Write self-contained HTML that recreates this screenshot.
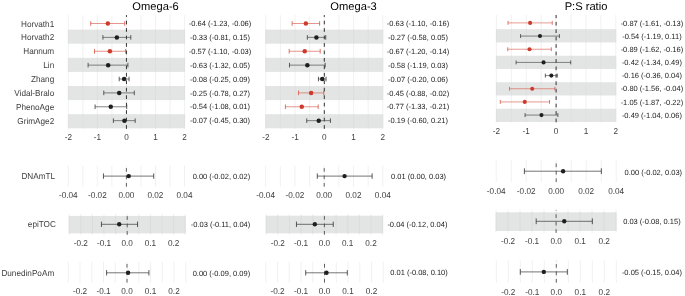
<!DOCTYPE html>
<html><head><meta charset="utf-8"><style>
html,body{margin:0;padding:0;background:#fff;}
svg{display:block;font-family:"Liberation Sans", sans-serif;will-change:transform;text-rendering:geometricPrecision;}
</style></head><body>
<svg width="685" height="296" viewBox="0 0 685 296">
<rect width="685" height="296" fill="#fff"/>
<rect x="68.35" y="29.60" width="116.20" height="14.10" fill="#E3E5E4"/>
<rect x="68.35" y="57.80" width="116.20" height="14.10" fill="#E3E5E4"/>
<rect x="68.35" y="86.00" width="116.20" height="14.10" fill="#E3E5E4"/>
<rect x="68.35" y="114.20" width="116.20" height="14.10" fill="#E3E5E4"/>
<line x1="68.35" y1="15.10" x2="68.35" y2="128.85" stroke="#EBEBEB" stroke-width="0.7"/>
<line x1="68.35" y1="29.60" x2="68.35" y2="43.70" stroke="#DADADA" stroke-width="0.7"/>
<line x1="68.35" y1="57.80" x2="68.35" y2="71.90" stroke="#DADADA" stroke-width="0.7"/>
<line x1="68.35" y1="86.00" x2="68.35" y2="100.10" stroke="#DADADA" stroke-width="0.7"/>
<line x1="68.35" y1="114.20" x2="68.35" y2="128.30" stroke="#DADADA" stroke-width="0.7"/>
<line x1="82.88" y1="15.10" x2="82.88" y2="128.85" stroke="#EBEBEB" stroke-width="0.7"/>
<line x1="82.88" y1="29.60" x2="82.88" y2="43.70" stroke="#DADADA" stroke-width="0.7"/>
<line x1="82.88" y1="57.80" x2="82.88" y2="71.90" stroke="#DADADA" stroke-width="0.7"/>
<line x1="82.88" y1="86.00" x2="82.88" y2="100.10" stroke="#DADADA" stroke-width="0.7"/>
<line x1="82.88" y1="114.20" x2="82.88" y2="128.30" stroke="#DADADA" stroke-width="0.7"/>
<line x1="97.40" y1="15.10" x2="97.40" y2="128.85" stroke="#EBEBEB" stroke-width="0.7"/>
<line x1="97.40" y1="29.60" x2="97.40" y2="43.70" stroke="#DADADA" stroke-width="0.7"/>
<line x1="97.40" y1="57.80" x2="97.40" y2="71.90" stroke="#DADADA" stroke-width="0.7"/>
<line x1="97.40" y1="86.00" x2="97.40" y2="100.10" stroke="#DADADA" stroke-width="0.7"/>
<line x1="97.40" y1="114.20" x2="97.40" y2="128.30" stroke="#DADADA" stroke-width="0.7"/>
<line x1="111.92" y1="15.10" x2="111.92" y2="128.85" stroke="#EBEBEB" stroke-width="0.7"/>
<line x1="111.92" y1="29.60" x2="111.92" y2="43.70" stroke="#DADADA" stroke-width="0.7"/>
<line x1="111.92" y1="57.80" x2="111.92" y2="71.90" stroke="#DADADA" stroke-width="0.7"/>
<line x1="111.92" y1="86.00" x2="111.92" y2="100.10" stroke="#DADADA" stroke-width="0.7"/>
<line x1="111.92" y1="114.20" x2="111.92" y2="128.30" stroke="#DADADA" stroke-width="0.7"/>
<line x1="126.45" y1="15.10" x2="126.45" y2="128.85" stroke="#EBEBEB" stroke-width="0.7"/>
<line x1="126.45" y1="29.60" x2="126.45" y2="43.70" stroke="#DADADA" stroke-width="0.7"/>
<line x1="126.45" y1="57.80" x2="126.45" y2="71.90" stroke="#DADADA" stroke-width="0.7"/>
<line x1="126.45" y1="86.00" x2="126.45" y2="100.10" stroke="#DADADA" stroke-width="0.7"/>
<line x1="126.45" y1="114.20" x2="126.45" y2="128.30" stroke="#DADADA" stroke-width="0.7"/>
<line x1="140.97" y1="15.10" x2="140.97" y2="128.85" stroke="#EBEBEB" stroke-width="0.7"/>
<line x1="140.97" y1="29.60" x2="140.97" y2="43.70" stroke="#DADADA" stroke-width="0.7"/>
<line x1="140.97" y1="57.80" x2="140.97" y2="71.90" stroke="#DADADA" stroke-width="0.7"/>
<line x1="140.97" y1="86.00" x2="140.97" y2="100.10" stroke="#DADADA" stroke-width="0.7"/>
<line x1="140.97" y1="114.20" x2="140.97" y2="128.30" stroke="#DADADA" stroke-width="0.7"/>
<line x1="155.50" y1="15.10" x2="155.50" y2="128.85" stroke="#EBEBEB" stroke-width="0.7"/>
<line x1="155.50" y1="29.60" x2="155.50" y2="43.70" stroke="#DADADA" stroke-width="0.7"/>
<line x1="155.50" y1="57.80" x2="155.50" y2="71.90" stroke="#DADADA" stroke-width="0.7"/>
<line x1="155.50" y1="86.00" x2="155.50" y2="100.10" stroke="#DADADA" stroke-width="0.7"/>
<line x1="155.50" y1="114.20" x2="155.50" y2="128.30" stroke="#DADADA" stroke-width="0.7"/>
<line x1="170.03" y1="15.10" x2="170.03" y2="128.85" stroke="#EBEBEB" stroke-width="0.7"/>
<line x1="170.03" y1="29.60" x2="170.03" y2="43.70" stroke="#DADADA" stroke-width="0.7"/>
<line x1="170.03" y1="57.80" x2="170.03" y2="71.90" stroke="#DADADA" stroke-width="0.7"/>
<line x1="170.03" y1="86.00" x2="170.03" y2="100.10" stroke="#DADADA" stroke-width="0.7"/>
<line x1="170.03" y1="114.20" x2="170.03" y2="128.30" stroke="#DADADA" stroke-width="0.7"/>
<line x1="184.55" y1="15.10" x2="184.55" y2="128.85" stroke="#EBEBEB" stroke-width="0.7"/>
<line x1="184.55" y1="29.60" x2="184.55" y2="43.70" stroke="#DADADA" stroke-width="0.7"/>
<line x1="184.55" y1="57.80" x2="184.55" y2="71.90" stroke="#DADADA" stroke-width="0.7"/>
<line x1="184.55" y1="86.00" x2="184.55" y2="100.10" stroke="#DADADA" stroke-width="0.7"/>
<line x1="184.55" y1="114.20" x2="184.55" y2="128.30" stroke="#DADADA" stroke-width="0.7"/>
<line x1="126.45" y1="128.85" x2="126.45" y2="15.10" stroke="#333" stroke-width="1.0" stroke-dasharray="3.73 3.73"/>
<line x1="90.72" y1="23.50" x2="124.71" y2="23.50" stroke="#D65646" stroke-width="0.62"/>
<line x1="90.72" y1="21.20" x2="90.72" y2="25.80" stroke="#D65646" stroke-width="0.82"/>
<line x1="124.71" y1="21.20" x2="124.71" y2="25.80" stroke="#D65646" stroke-width="0.82"/>
<circle cx="107.86" cy="23.50" r="2.25" fill="#CC3B2B"/>
<text x="220.00" y="26.10" text-anchor="middle" font-size="7.5" fill="#1A1A1A">-0.64 (-1.23, -0.06)</text>
<line x1="102.92" y1="37.38" x2="130.81" y2="37.38" stroke="#3A3A3A" stroke-width="0.62"/>
<line x1="102.92" y1="35.08" x2="102.92" y2="39.68" stroke="#3A3A3A" stroke-width="0.82"/>
<line x1="130.81" y1="35.08" x2="130.81" y2="39.68" stroke="#3A3A3A" stroke-width="0.82"/>
<circle cx="116.86" cy="37.38" r="2.25" fill="#1F1F1F"/>
<text x="220.00" y="39.98" text-anchor="middle" font-size="7.5" fill="#1A1A1A">-0.33 (-0.81, 0.15)</text>
<line x1="94.50" y1="51.26" x2="125.58" y2="51.26" stroke="#D65646" stroke-width="0.62"/>
<line x1="94.50" y1="48.96" x2="94.50" y2="53.56" stroke="#D65646" stroke-width="0.82"/>
<line x1="125.58" y1="48.96" x2="125.58" y2="53.56" stroke="#D65646" stroke-width="0.82"/>
<circle cx="109.89" cy="51.26" r="2.25" fill="#CC3B2B"/>
<text x="220.00" y="53.86" text-anchor="middle" font-size="7.5" fill="#1A1A1A">-0.57 (-1.10, -0.03)</text>
<line x1="88.10" y1="65.14" x2="127.90" y2="65.14" stroke="#3A3A3A" stroke-width="0.62"/>
<line x1="88.10" y1="62.84" x2="88.10" y2="67.44" stroke="#3A3A3A" stroke-width="0.82"/>
<line x1="127.90" y1="62.84" x2="127.90" y2="67.44" stroke="#3A3A3A" stroke-width="0.82"/>
<circle cx="108.15" cy="65.14" r="2.25" fill="#1F1F1F"/>
<text x="220.00" y="67.74" text-anchor="middle" font-size="7.5" fill="#1A1A1A">-0.63 (-1.32, 0.05)</text>
<line x1="119.19" y1="79.02" x2="129.06" y2="79.02" stroke="#3A3A3A" stroke-width="0.62"/>
<line x1="119.19" y1="76.72" x2="119.19" y2="81.32" stroke="#3A3A3A" stroke-width="0.82"/>
<line x1="129.06" y1="76.72" x2="129.06" y2="81.32" stroke="#3A3A3A" stroke-width="0.82"/>
<circle cx="124.13" cy="79.02" r="2.25" fill="#1F1F1F"/>
<text x="220.00" y="81.62" text-anchor="middle" font-size="7.5" fill="#1A1A1A">-0.08 (-0.25, 0.09)</text>
<line x1="103.79" y1="92.90" x2="134.29" y2="92.90" stroke="#3A3A3A" stroke-width="0.62"/>
<line x1="103.79" y1="90.60" x2="103.79" y2="95.20" stroke="#3A3A3A" stroke-width="0.82"/>
<line x1="134.29" y1="90.60" x2="134.29" y2="95.20" stroke="#3A3A3A" stroke-width="0.82"/>
<circle cx="119.19" cy="92.90" r="2.25" fill="#1F1F1F"/>
<text x="220.00" y="95.50" text-anchor="middle" font-size="7.5" fill="#1A1A1A">-0.25 (-0.78, 0.27)</text>
<line x1="95.08" y1="106.78" x2="126.74" y2="106.78" stroke="#3A3A3A" stroke-width="0.62"/>
<line x1="95.08" y1="104.48" x2="95.08" y2="109.08" stroke="#3A3A3A" stroke-width="0.82"/>
<line x1="126.74" y1="104.48" x2="126.74" y2="109.08" stroke="#3A3A3A" stroke-width="0.82"/>
<circle cx="110.76" cy="106.78" r="2.25" fill="#1F1F1F"/>
<text x="220.00" y="109.38" text-anchor="middle" font-size="7.5" fill="#1A1A1A">-0.54 (-1.08, 0.01)</text>
<line x1="113.38" y1="120.66" x2="135.16" y2="120.66" stroke="#3A3A3A" stroke-width="0.62"/>
<line x1="113.38" y1="118.36" x2="113.38" y2="122.96" stroke="#3A3A3A" stroke-width="0.82"/>
<line x1="135.16" y1="118.36" x2="135.16" y2="122.96" stroke="#3A3A3A" stroke-width="0.82"/>
<circle cx="124.42" cy="120.66" r="2.25" fill="#1F1F1F"/>
<text x="220.00" y="123.26" text-anchor="middle" font-size="7.5" fill="#1A1A1A">-0.07 (-0.45, 0.30)</text>
<text transform="translate(68.35,139.90) scale(1,1.05)" text-anchor="middle" font-size="8.2" fill="#404040">-2</text>
<text transform="translate(97.40,139.90) scale(1,1.05)" text-anchor="middle" font-size="8.2" fill="#404040">-1</text>
<text transform="translate(126.45,139.90) scale(1,1.05)" text-anchor="middle" font-size="8.2" fill="#404040">0</text>
<text transform="translate(155.50,139.90) scale(1,1.05)" text-anchor="middle" font-size="8.2" fill="#404040">1</text>
<text transform="translate(184.55,139.90) scale(1,1.05)" text-anchor="middle" font-size="8.2" fill="#404040">2</text>
<text x="155.60" y="10.35" text-anchor="middle" font-size="11.15" fill="#000">Omega-6</text>
<rect x="265.60" y="29.60" width="117.00" height="14.10" fill="#E3E5E4"/>
<rect x="265.60" y="57.80" width="117.00" height="14.10" fill="#E3E5E4"/>
<rect x="265.60" y="86.00" width="117.00" height="14.10" fill="#E3E5E4"/>
<rect x="265.60" y="114.20" width="117.00" height="14.10" fill="#E3E5E4"/>
<line x1="265.80" y1="15.10" x2="265.80" y2="128.85" stroke="#EBEBEB" stroke-width="0.7"/>
<line x1="265.80" y1="29.60" x2="265.80" y2="43.70" stroke="#DADADA" stroke-width="0.7"/>
<line x1="265.80" y1="57.80" x2="265.80" y2="71.90" stroke="#DADADA" stroke-width="0.7"/>
<line x1="265.80" y1="86.00" x2="265.80" y2="100.10" stroke="#DADADA" stroke-width="0.7"/>
<line x1="265.80" y1="114.20" x2="265.80" y2="128.30" stroke="#DADADA" stroke-width="0.7"/>
<line x1="280.43" y1="15.10" x2="280.43" y2="128.85" stroke="#EBEBEB" stroke-width="0.7"/>
<line x1="280.43" y1="29.60" x2="280.43" y2="43.70" stroke="#DADADA" stroke-width="0.7"/>
<line x1="280.43" y1="57.80" x2="280.43" y2="71.90" stroke="#DADADA" stroke-width="0.7"/>
<line x1="280.43" y1="86.00" x2="280.43" y2="100.10" stroke="#DADADA" stroke-width="0.7"/>
<line x1="280.43" y1="114.20" x2="280.43" y2="128.30" stroke="#DADADA" stroke-width="0.7"/>
<line x1="295.05" y1="15.10" x2="295.05" y2="128.85" stroke="#EBEBEB" stroke-width="0.7"/>
<line x1="295.05" y1="29.60" x2="295.05" y2="43.70" stroke="#DADADA" stroke-width="0.7"/>
<line x1="295.05" y1="57.80" x2="295.05" y2="71.90" stroke="#DADADA" stroke-width="0.7"/>
<line x1="295.05" y1="86.00" x2="295.05" y2="100.10" stroke="#DADADA" stroke-width="0.7"/>
<line x1="295.05" y1="114.20" x2="295.05" y2="128.30" stroke="#DADADA" stroke-width="0.7"/>
<line x1="309.68" y1="15.10" x2="309.68" y2="128.85" stroke="#EBEBEB" stroke-width="0.7"/>
<line x1="309.68" y1="29.60" x2="309.68" y2="43.70" stroke="#DADADA" stroke-width="0.7"/>
<line x1="309.68" y1="57.80" x2="309.68" y2="71.90" stroke="#DADADA" stroke-width="0.7"/>
<line x1="309.68" y1="86.00" x2="309.68" y2="100.10" stroke="#DADADA" stroke-width="0.7"/>
<line x1="309.68" y1="114.20" x2="309.68" y2="128.30" stroke="#DADADA" stroke-width="0.7"/>
<line x1="324.30" y1="15.10" x2="324.30" y2="128.85" stroke="#EBEBEB" stroke-width="0.7"/>
<line x1="324.30" y1="29.60" x2="324.30" y2="43.70" stroke="#DADADA" stroke-width="0.7"/>
<line x1="324.30" y1="57.80" x2="324.30" y2="71.90" stroke="#DADADA" stroke-width="0.7"/>
<line x1="324.30" y1="86.00" x2="324.30" y2="100.10" stroke="#DADADA" stroke-width="0.7"/>
<line x1="324.30" y1="114.20" x2="324.30" y2="128.30" stroke="#DADADA" stroke-width="0.7"/>
<line x1="338.93" y1="15.10" x2="338.93" y2="128.85" stroke="#EBEBEB" stroke-width="0.7"/>
<line x1="338.93" y1="29.60" x2="338.93" y2="43.70" stroke="#DADADA" stroke-width="0.7"/>
<line x1="338.93" y1="57.80" x2="338.93" y2="71.90" stroke="#DADADA" stroke-width="0.7"/>
<line x1="338.93" y1="86.00" x2="338.93" y2="100.10" stroke="#DADADA" stroke-width="0.7"/>
<line x1="338.93" y1="114.20" x2="338.93" y2="128.30" stroke="#DADADA" stroke-width="0.7"/>
<line x1="353.55" y1="15.10" x2="353.55" y2="128.85" stroke="#EBEBEB" stroke-width="0.7"/>
<line x1="353.55" y1="29.60" x2="353.55" y2="43.70" stroke="#DADADA" stroke-width="0.7"/>
<line x1="353.55" y1="57.80" x2="353.55" y2="71.90" stroke="#DADADA" stroke-width="0.7"/>
<line x1="353.55" y1="86.00" x2="353.55" y2="100.10" stroke="#DADADA" stroke-width="0.7"/>
<line x1="353.55" y1="114.20" x2="353.55" y2="128.30" stroke="#DADADA" stroke-width="0.7"/>
<line x1="368.18" y1="15.10" x2="368.18" y2="128.85" stroke="#EBEBEB" stroke-width="0.7"/>
<line x1="368.18" y1="29.60" x2="368.18" y2="43.70" stroke="#DADADA" stroke-width="0.7"/>
<line x1="368.18" y1="57.80" x2="368.18" y2="71.90" stroke="#DADADA" stroke-width="0.7"/>
<line x1="368.18" y1="86.00" x2="368.18" y2="100.10" stroke="#DADADA" stroke-width="0.7"/>
<line x1="368.18" y1="114.20" x2="368.18" y2="128.30" stroke="#DADADA" stroke-width="0.7"/>
<line x1="382.80" y1="15.10" x2="382.80" y2="128.85" stroke="#EBEBEB" stroke-width="0.7"/>
<line x1="382.80" y1="29.60" x2="382.80" y2="43.70" stroke="#DADADA" stroke-width="0.7"/>
<line x1="382.80" y1="57.80" x2="382.80" y2="71.90" stroke="#DADADA" stroke-width="0.7"/>
<line x1="382.80" y1="86.00" x2="382.80" y2="100.10" stroke="#DADADA" stroke-width="0.7"/>
<line x1="382.80" y1="114.20" x2="382.80" y2="128.30" stroke="#DADADA" stroke-width="0.7"/>
<line x1="324.30" y1="128.85" x2="324.30" y2="15.10" stroke="#333" stroke-width="1.0" stroke-dasharray="3.73 3.73"/>
<line x1="292.12" y1="23.50" x2="319.62" y2="23.50" stroke="#D65646" stroke-width="0.62"/>
<line x1="292.12" y1="21.20" x2="292.12" y2="25.80" stroke="#D65646" stroke-width="0.82"/>
<line x1="319.62" y1="21.20" x2="319.62" y2="25.80" stroke="#D65646" stroke-width="0.82"/>
<circle cx="305.87" cy="23.50" r="2.25" fill="#CC3B2B"/>
<text x="418.00" y="26.10" text-anchor="middle" font-size="7.5" fill="#1A1A1A">-0.63 (-1.10, -0.16)</text>
<line x1="307.34" y1="37.38" x2="325.76" y2="37.38" stroke="#3A3A3A" stroke-width="0.62"/>
<line x1="307.34" y1="35.08" x2="307.34" y2="39.68" stroke="#3A3A3A" stroke-width="0.82"/>
<line x1="325.76" y1="35.08" x2="325.76" y2="39.68" stroke="#3A3A3A" stroke-width="0.82"/>
<circle cx="316.40" cy="37.38" r="2.25" fill="#1F1F1F"/>
<text x="418.00" y="39.98" text-anchor="middle" font-size="7.5" fill="#1A1A1A">-0.27 (-0.58, 0.05)</text>
<line x1="289.20" y1="51.26" x2="320.20" y2="51.26" stroke="#D65646" stroke-width="0.62"/>
<line x1="289.20" y1="48.96" x2="289.20" y2="53.56" stroke="#D65646" stroke-width="0.82"/>
<line x1="320.20" y1="48.96" x2="320.20" y2="53.56" stroke="#D65646" stroke-width="0.82"/>
<circle cx="304.70" cy="51.26" r="2.25" fill="#CC3B2B"/>
<text x="418.00" y="53.86" text-anchor="middle" font-size="7.5" fill="#1A1A1A">-0.67 (-1.20, -0.14)</text>
<line x1="289.49" y1="65.14" x2="325.18" y2="65.14" stroke="#3A3A3A" stroke-width="0.62"/>
<line x1="289.49" y1="62.84" x2="289.49" y2="67.44" stroke="#3A3A3A" stroke-width="0.82"/>
<line x1="325.18" y1="62.84" x2="325.18" y2="67.44" stroke="#3A3A3A" stroke-width="0.82"/>
<circle cx="307.34" cy="65.14" r="2.25" fill="#1F1F1F"/>
<text x="418.00" y="67.74" text-anchor="middle" font-size="7.5" fill="#1A1A1A">-0.58 (-1.19, 0.03)</text>
<line x1="318.45" y1="79.02" x2="326.06" y2="79.02" stroke="#3A3A3A" stroke-width="0.62"/>
<line x1="318.45" y1="76.72" x2="318.45" y2="81.32" stroke="#3A3A3A" stroke-width="0.82"/>
<line x1="326.06" y1="76.72" x2="326.06" y2="81.32" stroke="#3A3A3A" stroke-width="0.82"/>
<circle cx="322.25" cy="79.02" r="2.25" fill="#1F1F1F"/>
<text x="418.00" y="81.62" text-anchor="middle" font-size="7.5" fill="#1A1A1A">-0.07 (-0.20, 0.06)</text>
<line x1="298.56" y1="92.90" x2="323.72" y2="92.90" stroke="#D65646" stroke-width="0.62"/>
<line x1="298.56" y1="90.60" x2="298.56" y2="95.20" stroke="#D65646" stroke-width="0.82"/>
<line x1="323.72" y1="90.60" x2="323.72" y2="95.20" stroke="#D65646" stroke-width="0.82"/>
<circle cx="311.14" cy="92.90" r="2.25" fill="#CC3B2B"/>
<text x="418.00" y="95.50" text-anchor="middle" font-size="7.5" fill="#1A1A1A">-0.45 (-0.88, -0.02)</text>
<line x1="285.40" y1="106.78" x2="318.16" y2="106.78" stroke="#D65646" stroke-width="0.62"/>
<line x1="285.40" y1="104.48" x2="285.40" y2="109.08" stroke="#D65646" stroke-width="0.82"/>
<line x1="318.16" y1="104.48" x2="318.16" y2="109.08" stroke="#D65646" stroke-width="0.82"/>
<circle cx="301.78" cy="106.78" r="2.25" fill="#CC3B2B"/>
<text x="418.00" y="109.38" text-anchor="middle" font-size="7.5" fill="#1A1A1A">-0.77 (-1.33, -0.21)</text>
<line x1="306.75" y1="120.66" x2="330.44" y2="120.66" stroke="#3A3A3A" stroke-width="0.62"/>
<line x1="306.75" y1="118.36" x2="306.75" y2="122.96" stroke="#3A3A3A" stroke-width="0.82"/>
<line x1="330.44" y1="118.36" x2="330.44" y2="122.96" stroke="#3A3A3A" stroke-width="0.82"/>
<circle cx="318.74" cy="120.66" r="2.25" fill="#1F1F1F"/>
<text x="418.00" y="123.26" text-anchor="middle" font-size="7.5" fill="#1A1A1A">-0.19 (-0.60, 0.21)</text>
<text transform="translate(265.80,139.90) scale(1,1.05)" text-anchor="middle" font-size="8.2" fill="#404040">-2</text>
<text transform="translate(295.05,139.90) scale(1,1.05)" text-anchor="middle" font-size="8.2" fill="#404040">-1</text>
<text transform="translate(324.30,139.90) scale(1,1.05)" text-anchor="middle" font-size="8.2" fill="#404040">0</text>
<text transform="translate(353.55,139.90) scale(1,1.05)" text-anchor="middle" font-size="8.2" fill="#404040">1</text>
<text transform="translate(382.80,139.90) scale(1,1.05)" text-anchor="middle" font-size="8.2" fill="#404040">2</text>
<text x="353.60" y="10.35" text-anchor="middle" font-size="11.15" fill="#000">Omega-3</text>
<rect x="496.40" y="29.20" width="119.40" height="13.26" fill="#E3E5E4"/>
<rect x="496.40" y="55.71" width="119.40" height="13.26" fill="#E3E5E4"/>
<rect x="496.40" y="82.23" width="119.40" height="13.26" fill="#E3E5E4"/>
<rect x="496.40" y="108.74" width="119.40" height="13.26" fill="#E3E5E4"/>
<line x1="496.40" y1="15.00" x2="496.40" y2="122.30" stroke="#EBEBEB" stroke-width="0.7"/>
<line x1="496.40" y1="29.20" x2="496.40" y2="42.45" stroke="#DADADA" stroke-width="0.7"/>
<line x1="496.40" y1="55.71" x2="496.40" y2="68.97" stroke="#DADADA" stroke-width="0.7"/>
<line x1="496.40" y1="82.23" x2="496.40" y2="95.48" stroke="#DADADA" stroke-width="0.7"/>
<line x1="496.40" y1="108.74" x2="496.40" y2="122.00" stroke="#DADADA" stroke-width="0.7"/>
<line x1="511.33" y1="15.00" x2="511.33" y2="122.30" stroke="#EBEBEB" stroke-width="0.7"/>
<line x1="511.33" y1="29.20" x2="511.33" y2="42.45" stroke="#DADADA" stroke-width="0.7"/>
<line x1="511.33" y1="55.71" x2="511.33" y2="68.97" stroke="#DADADA" stroke-width="0.7"/>
<line x1="511.33" y1="82.23" x2="511.33" y2="95.48" stroke="#DADADA" stroke-width="0.7"/>
<line x1="511.33" y1="108.74" x2="511.33" y2="122.00" stroke="#DADADA" stroke-width="0.7"/>
<line x1="526.25" y1="15.00" x2="526.25" y2="122.30" stroke="#EBEBEB" stroke-width="0.7"/>
<line x1="526.25" y1="29.20" x2="526.25" y2="42.45" stroke="#DADADA" stroke-width="0.7"/>
<line x1="526.25" y1="55.71" x2="526.25" y2="68.97" stroke="#DADADA" stroke-width="0.7"/>
<line x1="526.25" y1="82.23" x2="526.25" y2="95.48" stroke="#DADADA" stroke-width="0.7"/>
<line x1="526.25" y1="108.74" x2="526.25" y2="122.00" stroke="#DADADA" stroke-width="0.7"/>
<line x1="541.18" y1="15.00" x2="541.18" y2="122.30" stroke="#EBEBEB" stroke-width="0.7"/>
<line x1="541.18" y1="29.20" x2="541.18" y2="42.45" stroke="#DADADA" stroke-width="0.7"/>
<line x1="541.18" y1="55.71" x2="541.18" y2="68.97" stroke="#DADADA" stroke-width="0.7"/>
<line x1="541.18" y1="82.23" x2="541.18" y2="95.48" stroke="#DADADA" stroke-width="0.7"/>
<line x1="541.18" y1="108.74" x2="541.18" y2="122.00" stroke="#DADADA" stroke-width="0.7"/>
<line x1="556.10" y1="15.00" x2="556.10" y2="122.30" stroke="#EBEBEB" stroke-width="0.7"/>
<line x1="556.10" y1="29.20" x2="556.10" y2="42.45" stroke="#DADADA" stroke-width="0.7"/>
<line x1="556.10" y1="55.71" x2="556.10" y2="68.97" stroke="#DADADA" stroke-width="0.7"/>
<line x1="556.10" y1="82.23" x2="556.10" y2="95.48" stroke="#DADADA" stroke-width="0.7"/>
<line x1="556.10" y1="108.74" x2="556.10" y2="122.00" stroke="#DADADA" stroke-width="0.7"/>
<line x1="571.02" y1="15.00" x2="571.02" y2="122.30" stroke="#EBEBEB" stroke-width="0.7"/>
<line x1="571.02" y1="29.20" x2="571.02" y2="42.45" stroke="#DADADA" stroke-width="0.7"/>
<line x1="571.02" y1="55.71" x2="571.02" y2="68.97" stroke="#DADADA" stroke-width="0.7"/>
<line x1="571.02" y1="82.23" x2="571.02" y2="95.48" stroke="#DADADA" stroke-width="0.7"/>
<line x1="571.02" y1="108.74" x2="571.02" y2="122.00" stroke="#DADADA" stroke-width="0.7"/>
<line x1="585.95" y1="15.00" x2="585.95" y2="122.30" stroke="#EBEBEB" stroke-width="0.7"/>
<line x1="585.95" y1="29.20" x2="585.95" y2="42.45" stroke="#DADADA" stroke-width="0.7"/>
<line x1="585.95" y1="55.71" x2="585.95" y2="68.97" stroke="#DADADA" stroke-width="0.7"/>
<line x1="585.95" y1="82.23" x2="585.95" y2="95.48" stroke="#DADADA" stroke-width="0.7"/>
<line x1="585.95" y1="108.74" x2="585.95" y2="122.00" stroke="#DADADA" stroke-width="0.7"/>
<line x1="600.88" y1="15.00" x2="600.88" y2="122.30" stroke="#EBEBEB" stroke-width="0.7"/>
<line x1="600.88" y1="29.20" x2="600.88" y2="42.45" stroke="#DADADA" stroke-width="0.7"/>
<line x1="600.88" y1="55.71" x2="600.88" y2="68.97" stroke="#DADADA" stroke-width="0.7"/>
<line x1="600.88" y1="82.23" x2="600.88" y2="95.48" stroke="#DADADA" stroke-width="0.7"/>
<line x1="600.88" y1="108.74" x2="600.88" y2="122.00" stroke="#DADADA" stroke-width="0.7"/>
<line x1="615.80" y1="15.00" x2="615.80" y2="122.30" stroke="#EBEBEB" stroke-width="0.7"/>
<line x1="615.80" y1="29.20" x2="615.80" y2="42.45" stroke="#DADADA" stroke-width="0.7"/>
<line x1="615.80" y1="55.71" x2="615.80" y2="68.97" stroke="#DADADA" stroke-width="0.7"/>
<line x1="615.80" y1="82.23" x2="615.80" y2="95.48" stroke="#DADADA" stroke-width="0.7"/>
<line x1="615.80" y1="108.74" x2="615.80" y2="122.00" stroke="#DADADA" stroke-width="0.7"/>
<line x1="556.10" y1="122.30" x2="556.10" y2="15.00" stroke="#333" stroke-width="1.0" stroke-dasharray="3.72 3.72"/>
<line x1="508.04" y1="22.90" x2="552.22" y2="22.90" stroke="#D65646" stroke-width="0.6"/>
<line x1="508.04" y1="20.95" x2="508.04" y2="24.85" stroke="#D65646" stroke-width="0.80"/>
<line x1="552.22" y1="20.95" x2="552.22" y2="24.85" stroke="#D65646" stroke-width="0.80"/>
<circle cx="530.13" cy="22.90" r="2.05" fill="#CC3B2B"/>
<text x="651.90" y="25.50" text-anchor="middle" font-size="7.5" fill="#1A1A1A">-0.87 (-1.61, -0.13)</text>
<line x1="520.58" y1="36.07" x2="559.38" y2="36.07" stroke="#3A3A3A" stroke-width="0.6"/>
<line x1="520.58" y1="34.12" x2="520.58" y2="38.02" stroke="#3A3A3A" stroke-width="0.80"/>
<line x1="559.38" y1="34.12" x2="559.38" y2="38.02" stroke="#3A3A3A" stroke-width="0.80"/>
<circle cx="539.98" cy="36.07" r="2.05" fill="#1F1F1F"/>
<text x="651.90" y="38.67" text-anchor="middle" font-size="7.5" fill="#1A1A1A">-0.54 (-1.19, 0.11)</text>
<line x1="507.74" y1="49.24" x2="551.32" y2="49.24" stroke="#D65646" stroke-width="0.6"/>
<line x1="507.74" y1="47.29" x2="507.74" y2="51.19" stroke="#D65646" stroke-width="0.80"/>
<line x1="551.32" y1="47.29" x2="551.32" y2="51.19" stroke="#D65646" stroke-width="0.80"/>
<circle cx="529.53" cy="49.24" r="2.05" fill="#CC3B2B"/>
<text x="651.90" y="51.84" text-anchor="middle" font-size="7.5" fill="#1A1A1A">-0.89 (-1.62, -0.16)</text>
<line x1="516.10" y1="62.41" x2="570.73" y2="62.41" stroke="#3A3A3A" stroke-width="0.6"/>
<line x1="516.10" y1="60.46" x2="516.10" y2="64.36" stroke="#3A3A3A" stroke-width="0.80"/>
<line x1="570.73" y1="60.46" x2="570.73" y2="64.36" stroke="#3A3A3A" stroke-width="0.80"/>
<circle cx="543.56" cy="62.41" r="2.05" fill="#1F1F1F"/>
<text x="651.90" y="65.01" text-anchor="middle" font-size="7.5" fill="#1A1A1A">-0.42 (-1.34, 0.49)</text>
<line x1="545.35" y1="75.58" x2="557.29" y2="75.58" stroke="#3A3A3A" stroke-width="0.6"/>
<line x1="545.35" y1="73.63" x2="545.35" y2="77.53" stroke="#3A3A3A" stroke-width="0.80"/>
<line x1="557.29" y1="73.63" x2="557.29" y2="77.53" stroke="#3A3A3A" stroke-width="0.80"/>
<circle cx="551.32" cy="75.58" r="2.05" fill="#1F1F1F"/>
<text x="651.90" y="78.18" text-anchor="middle" font-size="7.5" fill="#1A1A1A">-0.16 (-0.36, 0.04)</text>
<line x1="509.53" y1="88.75" x2="554.91" y2="88.75" stroke="#D65646" stroke-width="0.6"/>
<line x1="509.53" y1="86.80" x2="509.53" y2="90.70" stroke="#D65646" stroke-width="0.80"/>
<line x1="554.91" y1="86.80" x2="554.91" y2="90.70" stroke="#D65646" stroke-width="0.80"/>
<circle cx="532.22" cy="88.75" r="2.05" fill="#CC3B2B"/>
<text x="651.90" y="91.35" text-anchor="middle" font-size="7.5" fill="#1A1A1A">-0.80 (-1.56, -0.04)</text>
<line x1="500.28" y1="101.92" x2="549.53" y2="101.92" stroke="#D65646" stroke-width="0.6"/>
<line x1="500.28" y1="99.97" x2="500.28" y2="103.87" stroke="#D65646" stroke-width="0.80"/>
<line x1="549.53" y1="99.97" x2="549.53" y2="103.87" stroke="#D65646" stroke-width="0.80"/>
<circle cx="524.76" cy="101.92" r="2.05" fill="#CC3B2B"/>
<text x="651.90" y="104.52" text-anchor="middle" font-size="7.5" fill="#1A1A1A">-1.05 (-1.87, -0.22)</text>
<line x1="525.06" y1="115.09" x2="557.89" y2="115.09" stroke="#3A3A3A" stroke-width="0.6"/>
<line x1="525.06" y1="113.14" x2="525.06" y2="117.04" stroke="#3A3A3A" stroke-width="0.80"/>
<line x1="557.89" y1="113.14" x2="557.89" y2="117.04" stroke="#3A3A3A" stroke-width="0.80"/>
<circle cx="541.47" cy="115.09" r="2.05" fill="#1F1F1F"/>
<text x="651.90" y="117.69" text-anchor="middle" font-size="7.5" fill="#1A1A1A">-0.49 (-1.04, 0.06)</text>
<text transform="translate(496.40,133.50) scale(1,1.05)" text-anchor="middle" font-size="8.2" fill="#404040">-2</text>
<text transform="translate(526.25,133.50) scale(1,1.05)" text-anchor="middle" font-size="8.2" fill="#404040">-1</text>
<text transform="translate(556.10,133.50) scale(1,1.05)" text-anchor="middle" font-size="8.2" fill="#404040">0</text>
<text transform="translate(585.95,133.50) scale(1,1.05)" text-anchor="middle" font-size="8.2" fill="#404040">1</text>
<text transform="translate(615.80,133.50) scale(1,1.05)" text-anchor="middle" font-size="8.2" fill="#404040">2</text>
<text x="586.00" y="10.35" text-anchor="middle" font-size="11.15" fill="#000">P:S ratio</text>
<text transform="translate(54.2,26.50) scale(1,1.05)" text-anchor="end" font-size="8.2" fill="#404040">Horvath1</text>
<text transform="translate(54.2,40.41) scale(1,1.05)" text-anchor="end" font-size="8.2" fill="#404040">Horvath2</text>
<text transform="translate(54.2,54.32) scale(1,1.05)" text-anchor="end" font-size="8.2" fill="#404040">Hannum</text>
<text transform="translate(54.2,68.23) scale(1,1.05)" text-anchor="end" font-size="8.2" fill="#404040">Lin</text>
<text transform="translate(54.2,82.14) scale(1,1.05)" text-anchor="end" font-size="8.2" fill="#404040">Zhang</text>
<text transform="translate(54.2,96.05) scale(1,1.05)" text-anchor="end" font-size="8.2" fill="#404040">Vidal-Bralo</text>
<text transform="translate(54.2,109.96) scale(1,1.05)" text-anchor="end" font-size="8.2" fill="#404040">PhenoAge</text>
<text transform="translate(54.2,123.87) scale(1,1.05)" text-anchor="end" font-size="8.2" fill="#404040">GrimAge2</text>
<line x1="68.30" y1="165.70" x2="68.30" y2="186.70" stroke="#EBEBEB" stroke-width="0.7"/>
<line x1="82.83" y1="165.70" x2="82.83" y2="186.70" stroke="#EBEBEB" stroke-width="0.7"/>
<line x1="97.35" y1="165.70" x2="97.35" y2="186.70" stroke="#EBEBEB" stroke-width="0.7"/>
<line x1="111.88" y1="165.70" x2="111.88" y2="186.70" stroke="#EBEBEB" stroke-width="0.7"/>
<line x1="126.40" y1="165.70" x2="126.40" y2="186.70" stroke="#EBEBEB" stroke-width="0.7"/>
<line x1="140.93" y1="165.70" x2="140.93" y2="186.70" stroke="#EBEBEB" stroke-width="0.7"/>
<line x1="155.45" y1="165.70" x2="155.45" y2="186.70" stroke="#EBEBEB" stroke-width="0.7"/>
<line x1="169.98" y1="165.70" x2="169.98" y2="186.70" stroke="#EBEBEB" stroke-width="0.7"/>
<line x1="184.50" y1="165.70" x2="184.50" y2="186.70" stroke="#EBEBEB" stroke-width="0.7"/>
<line x1="126.40" y1="186.70" x2="126.40" y2="165.70" stroke="#444" stroke-width="0.85" stroke-dasharray="3.73 3.73"/>
<line x1="103.45" y1="176.10" x2="153.71" y2="176.10" stroke="#3A3A3A" stroke-width="0.7"/>
<line x1="103.45" y1="173.40" x2="103.45" y2="178.80" stroke="#3A3A3A" stroke-width="0.85"/>
<line x1="153.71" y1="173.40" x2="153.71" y2="178.80" stroke="#3A3A3A" stroke-width="0.85"/>
<circle cx="128.72" cy="176.10" r="2.2" fill="#1F1F1F"/>
<text x="221.40" y="179.30" text-anchor="middle" font-size="7.5" fill="#1A1A1A">0.00 (-0.02, 0.02)</text>
<text transform="translate(68.30,197.90) scale(1,1.05)" text-anchor="middle" font-size="8.2" fill="#404040">-0.04</text>
<text transform="translate(97.35,197.90) scale(1,1.05)" text-anchor="middle" font-size="8.2" fill="#404040">-0.02</text>
<text transform="translate(126.40,197.90) scale(1,1.05)" text-anchor="middle" font-size="8.2" fill="#404040">0.00</text>
<text transform="translate(155.45,197.90) scale(1,1.05)" text-anchor="middle" font-size="8.2" fill="#404040">0.02</text>
<text transform="translate(184.50,197.90) scale(1,1.05)" text-anchor="middle" font-size="8.2" fill="#404040">0.04</text>
<text transform="translate(55.1,179.40) scale(1,1.05)" text-anchor="end" font-size="8.2" fill="#404040">DNAmTL</text>
<line x1="265.60" y1="165.70" x2="265.60" y2="186.70" stroke="#EBEBEB" stroke-width="0.7"/>
<line x1="280.25" y1="165.70" x2="280.25" y2="186.70" stroke="#EBEBEB" stroke-width="0.7"/>
<line x1="294.90" y1="165.70" x2="294.90" y2="186.70" stroke="#EBEBEB" stroke-width="0.7"/>
<line x1="309.55" y1="165.70" x2="309.55" y2="186.70" stroke="#EBEBEB" stroke-width="0.7"/>
<line x1="324.20" y1="165.70" x2="324.20" y2="186.70" stroke="#EBEBEB" stroke-width="0.7"/>
<line x1="338.85" y1="165.70" x2="338.85" y2="186.70" stroke="#EBEBEB" stroke-width="0.7"/>
<line x1="353.50" y1="165.70" x2="353.50" y2="186.70" stroke="#EBEBEB" stroke-width="0.7"/>
<line x1="368.15" y1="165.70" x2="368.15" y2="186.70" stroke="#EBEBEB" stroke-width="0.7"/>
<line x1="382.80" y1="165.70" x2="382.80" y2="186.70" stroke="#EBEBEB" stroke-width="0.7"/>
<line x1="324.20" y1="186.70" x2="324.20" y2="165.70" stroke="#444" stroke-width="0.85" stroke-dasharray="3.73 3.73"/>
<line x1="317.31" y1="176.10" x2="372.11" y2="176.10" stroke="#3A3A3A" stroke-width="0.7"/>
<line x1="317.31" y1="173.40" x2="317.31" y2="178.80" stroke="#3A3A3A" stroke-width="0.85"/>
<line x1="372.11" y1="173.40" x2="372.11" y2="178.80" stroke="#3A3A3A" stroke-width="0.85"/>
<circle cx="344.56" cy="176.10" r="2.2" fill="#1F1F1F"/>
<text x="418.60" y="179.30" text-anchor="middle" font-size="7.5" fill="#1A1A1A">0.01 (0.00, 0.03)</text>
<text transform="translate(265.60,197.90) scale(1,1.05)" text-anchor="middle" font-size="8.2" fill="#404040">-0.04</text>
<text transform="translate(294.90,197.90) scale(1,1.05)" text-anchor="middle" font-size="8.2" fill="#404040">-0.02</text>
<text transform="translate(324.20,197.90) scale(1,1.05)" text-anchor="middle" font-size="8.2" fill="#404040">0.00</text>
<text transform="translate(353.50,197.90) scale(1,1.05)" text-anchor="middle" font-size="8.2" fill="#404040">0.02</text>
<text transform="translate(382.80,197.90) scale(1,1.05)" text-anchor="middle" font-size="8.2" fill="#404040">0.04</text>
<line x1="496.20" y1="160.10" x2="496.20" y2="182.10" stroke="#EBEBEB" stroke-width="0.7"/>
<line x1="511.20" y1="160.10" x2="511.20" y2="182.10" stroke="#EBEBEB" stroke-width="0.7"/>
<line x1="526.20" y1="160.10" x2="526.20" y2="182.10" stroke="#EBEBEB" stroke-width="0.7"/>
<line x1="541.20" y1="160.10" x2="541.20" y2="182.10" stroke="#EBEBEB" stroke-width="0.7"/>
<line x1="556.20" y1="160.10" x2="556.20" y2="182.10" stroke="#EBEBEB" stroke-width="0.7"/>
<line x1="571.20" y1="160.10" x2="571.20" y2="182.10" stroke="#EBEBEB" stroke-width="0.7"/>
<line x1="586.20" y1="160.10" x2="586.20" y2="182.10" stroke="#EBEBEB" stroke-width="0.7"/>
<line x1="601.20" y1="160.10" x2="601.20" y2="182.10" stroke="#EBEBEB" stroke-width="0.7"/>
<line x1="616.20" y1="160.10" x2="616.20" y2="182.10" stroke="#EBEBEB" stroke-width="0.7"/>
<line x1="556.20" y1="182.10" x2="556.20" y2="160.10" stroke="#444" stroke-width="0.85" stroke-dasharray="3.73 3.73"/>
<line x1="524.40" y1="171.20" x2="601.35" y2="171.20" stroke="#3A3A3A" stroke-width="0.7"/>
<line x1="524.40" y1="168.30" x2="524.40" y2="174.10" stroke="#3A3A3A" stroke-width="0.85"/>
<line x1="601.35" y1="168.30" x2="601.35" y2="174.10" stroke="#3A3A3A" stroke-width="0.85"/>
<circle cx="563.10" cy="171.20" r="2.2" fill="#1F1F1F"/>
<text x="653.30" y="174.80" text-anchor="middle" font-size="7.5" fill="#1A1A1A">0.00 (-0.02, 0.03)</text>
<text transform="translate(496.20,193.50) scale(1,1.05)" text-anchor="middle" font-size="8.2" fill="#404040">-0.04</text>
<text transform="translate(526.20,193.50) scale(1,1.05)" text-anchor="middle" font-size="8.2" fill="#404040">-0.02</text>
<text transform="translate(556.20,193.50) scale(1,1.05)" text-anchor="middle" font-size="8.2" fill="#404040">0.00</text>
<text transform="translate(586.20,193.50) scale(1,1.05)" text-anchor="middle" font-size="8.2" fill="#404040">0.02</text>
<text transform="translate(616.20,193.50) scale(1,1.05)" text-anchor="middle" font-size="8.2" fill="#404040">0.04</text>
<rect x="69.20" y="215.90" width="116.00" height="17.50" fill="#E3E5E4"/>
<line x1="69.20" y1="214.00" x2="69.20" y2="234.80" stroke="#EBEBEB" stroke-width="0.7"/>
<line x1="69.20" y1="215.90" x2="69.20" y2="233.40" stroke="#D3D5D5" stroke-width="0.7"/>
<line x1="80.80" y1="214.00" x2="80.80" y2="234.80" stroke="#EBEBEB" stroke-width="0.7"/>
<line x1="80.80" y1="215.90" x2="80.80" y2="233.40" stroke="#D3D5D5" stroke-width="0.7"/>
<line x1="92.40" y1="214.00" x2="92.40" y2="234.80" stroke="#EBEBEB" stroke-width="0.7"/>
<line x1="92.40" y1="215.90" x2="92.40" y2="233.40" stroke="#D3D5D5" stroke-width="0.7"/>
<line x1="104.00" y1="214.00" x2="104.00" y2="234.80" stroke="#EBEBEB" stroke-width="0.7"/>
<line x1="104.00" y1="215.90" x2="104.00" y2="233.40" stroke="#D3D5D5" stroke-width="0.7"/>
<line x1="115.60" y1="214.00" x2="115.60" y2="234.80" stroke="#EBEBEB" stroke-width="0.7"/>
<line x1="115.60" y1="215.90" x2="115.60" y2="233.40" stroke="#D3D5D5" stroke-width="0.7"/>
<line x1="127.20" y1="214.00" x2="127.20" y2="234.80" stroke="#EBEBEB" stroke-width="0.7"/>
<line x1="127.20" y1="215.90" x2="127.20" y2="233.40" stroke="#D3D5D5" stroke-width="0.7"/>
<line x1="138.80" y1="214.00" x2="138.80" y2="234.80" stroke="#EBEBEB" stroke-width="0.7"/>
<line x1="138.80" y1="215.90" x2="138.80" y2="233.40" stroke="#D3D5D5" stroke-width="0.7"/>
<line x1="150.40" y1="214.00" x2="150.40" y2="234.80" stroke="#EBEBEB" stroke-width="0.7"/>
<line x1="150.40" y1="215.90" x2="150.40" y2="233.40" stroke="#D3D5D5" stroke-width="0.7"/>
<line x1="162.00" y1="214.00" x2="162.00" y2="234.80" stroke="#EBEBEB" stroke-width="0.7"/>
<line x1="162.00" y1="215.90" x2="162.00" y2="233.40" stroke="#D3D5D5" stroke-width="0.7"/>
<line x1="173.60" y1="214.00" x2="173.60" y2="234.80" stroke="#EBEBEB" stroke-width="0.7"/>
<line x1="173.60" y1="215.90" x2="173.60" y2="233.40" stroke="#D3D5D5" stroke-width="0.7"/>
<line x1="185.20" y1="214.00" x2="185.20" y2="234.80" stroke="#EBEBEB" stroke-width="0.7"/>
<line x1="185.20" y1="215.90" x2="185.20" y2="233.40" stroke="#D3D5D5" stroke-width="0.7"/>
<line x1="127.20" y1="234.80" x2="127.20" y2="214.00" stroke="#444" stroke-width="0.85" stroke-dasharray="3.73 3.73"/>
<line x1="101.45" y1="224.30" x2="137.52" y2="224.30" stroke="#3A3A3A" stroke-width="0.7"/>
<line x1="101.45" y1="221.60" x2="101.45" y2="227.00" stroke="#3A3A3A" stroke-width="0.85"/>
<line x1="137.52" y1="221.60" x2="137.52" y2="227.00" stroke="#3A3A3A" stroke-width="0.85"/>
<circle cx="119.20" cy="224.30" r="2.2" fill="#1F1F1F"/>
<text x="220.50" y="226.50" text-anchor="middle" font-size="7.5" fill="#1A1A1A">-0.03 (-0.11, 0.04)</text>
<text transform="translate(80.80,246.10) scale(1,1.05)" text-anchor="middle" font-size="8.2" fill="#404040">-0.2</text>
<text transform="translate(104.00,246.10) scale(1,1.05)" text-anchor="middle" font-size="8.2" fill="#404040">-0.1</text>
<text transform="translate(127.20,246.10) scale(1,1.05)" text-anchor="middle" font-size="8.2" fill="#404040">0.0</text>
<text transform="translate(150.40,246.10) scale(1,1.05)" text-anchor="middle" font-size="8.2" fill="#404040">0.1</text>
<text transform="translate(173.60,246.10) scale(1,1.05)" text-anchor="middle" font-size="8.2" fill="#404040">0.2</text>
<text transform="translate(55.9,227.00) scale(1,1.05)" text-anchor="end" font-size="8.2" fill="#404040">epiTOC</text>
<rect x="266.15" y="215.70" width="116.50" height="17.60" fill="#E3E5E4"/>
<line x1="266.15" y1="214.00" x2="266.15" y2="234.70" stroke="#EBEBEB" stroke-width="0.7"/>
<line x1="266.15" y1="215.70" x2="266.15" y2="233.30" stroke="#D3D5D5" stroke-width="0.7"/>
<line x1="277.80" y1="214.00" x2="277.80" y2="234.70" stroke="#EBEBEB" stroke-width="0.7"/>
<line x1="277.80" y1="215.70" x2="277.80" y2="233.30" stroke="#D3D5D5" stroke-width="0.7"/>
<line x1="289.45" y1="214.00" x2="289.45" y2="234.70" stroke="#EBEBEB" stroke-width="0.7"/>
<line x1="289.45" y1="215.70" x2="289.45" y2="233.30" stroke="#D3D5D5" stroke-width="0.7"/>
<line x1="301.10" y1="214.00" x2="301.10" y2="234.70" stroke="#EBEBEB" stroke-width="0.7"/>
<line x1="301.10" y1="215.70" x2="301.10" y2="233.30" stroke="#D3D5D5" stroke-width="0.7"/>
<line x1="312.75" y1="214.00" x2="312.75" y2="234.70" stroke="#EBEBEB" stroke-width="0.7"/>
<line x1="312.75" y1="215.70" x2="312.75" y2="233.30" stroke="#D3D5D5" stroke-width="0.7"/>
<line x1="324.40" y1="214.00" x2="324.40" y2="234.70" stroke="#EBEBEB" stroke-width="0.7"/>
<line x1="324.40" y1="215.70" x2="324.40" y2="233.30" stroke="#D3D5D5" stroke-width="0.7"/>
<line x1="336.05" y1="214.00" x2="336.05" y2="234.70" stroke="#EBEBEB" stroke-width="0.7"/>
<line x1="336.05" y1="215.70" x2="336.05" y2="233.30" stroke="#D3D5D5" stroke-width="0.7"/>
<line x1="347.70" y1="214.00" x2="347.70" y2="234.70" stroke="#EBEBEB" stroke-width="0.7"/>
<line x1="347.70" y1="215.70" x2="347.70" y2="233.30" stroke="#D3D5D5" stroke-width="0.7"/>
<line x1="359.35" y1="214.00" x2="359.35" y2="234.70" stroke="#EBEBEB" stroke-width="0.7"/>
<line x1="359.35" y1="215.70" x2="359.35" y2="233.30" stroke="#D3D5D5" stroke-width="0.7"/>
<line x1="371.00" y1="214.00" x2="371.00" y2="234.70" stroke="#EBEBEB" stroke-width="0.7"/>
<line x1="371.00" y1="215.70" x2="371.00" y2="233.30" stroke="#D3D5D5" stroke-width="0.7"/>
<line x1="382.65" y1="214.00" x2="382.65" y2="234.70" stroke="#EBEBEB" stroke-width="0.7"/>
<line x1="382.65" y1="215.70" x2="382.65" y2="233.30" stroke="#D3D5D5" stroke-width="0.7"/>
<line x1="324.40" y1="234.70" x2="324.40" y2="214.00" stroke="#444" stroke-width="0.85" stroke-dasharray="3.73 3.73"/>
<line x1="296.44" y1="224.30" x2="333.25" y2="224.30" stroke="#3A3A3A" stroke-width="0.7"/>
<line x1="296.44" y1="221.60" x2="296.44" y2="227.00" stroke="#3A3A3A" stroke-width="0.85"/>
<line x1="333.25" y1="221.60" x2="333.25" y2="227.00" stroke="#3A3A3A" stroke-width="0.85"/>
<circle cx="314.85" cy="224.30" r="2.2" fill="#1F1F1F"/>
<text x="417.40" y="226.90" text-anchor="middle" font-size="7.5" fill="#1A1A1A">-0.04 (-0.12, 0.04)</text>
<text transform="translate(277.80,245.70) scale(1,1.05)" text-anchor="middle" font-size="8.2" fill="#404040">-0.2</text>
<text transform="translate(301.10,245.70) scale(1,1.05)" text-anchor="middle" font-size="8.2" fill="#404040">-0.1</text>
<text transform="translate(324.40,245.70) scale(1,1.05)" text-anchor="middle" font-size="8.2" fill="#404040">0.0</text>
<text transform="translate(347.70,245.70) scale(1,1.05)" text-anchor="middle" font-size="8.2" fill="#404040">0.1</text>
<text transform="translate(371.00,245.70) scale(1,1.05)" text-anchor="middle" font-size="8.2" fill="#404040">0.2</text>
<rect x="496.10" y="212.30" width="120.00" height="18.70" fill="#E3E5E4"/>
<line x1="496.10" y1="209.90" x2="496.10" y2="232.90" stroke="#EBEBEB" stroke-width="0.7"/>
<line x1="496.10" y1="212.30" x2="496.10" y2="231.00" stroke="#D3D5D5" stroke-width="0.7"/>
<line x1="508.10" y1="209.90" x2="508.10" y2="232.90" stroke="#EBEBEB" stroke-width="0.7"/>
<line x1="508.10" y1="212.30" x2="508.10" y2="231.00" stroke="#D3D5D5" stroke-width="0.7"/>
<line x1="520.10" y1="209.90" x2="520.10" y2="232.90" stroke="#EBEBEB" stroke-width="0.7"/>
<line x1="520.10" y1="212.30" x2="520.10" y2="231.00" stroke="#D3D5D5" stroke-width="0.7"/>
<line x1="532.10" y1="209.90" x2="532.10" y2="232.90" stroke="#EBEBEB" stroke-width="0.7"/>
<line x1="532.10" y1="212.30" x2="532.10" y2="231.00" stroke="#D3D5D5" stroke-width="0.7"/>
<line x1="544.10" y1="209.90" x2="544.10" y2="232.90" stroke="#EBEBEB" stroke-width="0.7"/>
<line x1="544.10" y1="212.30" x2="544.10" y2="231.00" stroke="#D3D5D5" stroke-width="0.7"/>
<line x1="556.10" y1="209.90" x2="556.10" y2="232.90" stroke="#EBEBEB" stroke-width="0.7"/>
<line x1="556.10" y1="212.30" x2="556.10" y2="231.00" stroke="#D3D5D5" stroke-width="0.7"/>
<line x1="568.10" y1="209.90" x2="568.10" y2="232.90" stroke="#EBEBEB" stroke-width="0.7"/>
<line x1="568.10" y1="212.30" x2="568.10" y2="231.00" stroke="#D3D5D5" stroke-width="0.7"/>
<line x1="580.10" y1="209.90" x2="580.10" y2="232.90" stroke="#EBEBEB" stroke-width="0.7"/>
<line x1="580.10" y1="212.30" x2="580.10" y2="231.00" stroke="#D3D5D5" stroke-width="0.7"/>
<line x1="592.10" y1="209.90" x2="592.10" y2="232.90" stroke="#EBEBEB" stroke-width="0.7"/>
<line x1="592.10" y1="212.30" x2="592.10" y2="231.00" stroke="#D3D5D5" stroke-width="0.7"/>
<line x1="604.10" y1="209.90" x2="604.10" y2="232.90" stroke="#EBEBEB" stroke-width="0.7"/>
<line x1="604.10" y1="212.30" x2="604.10" y2="231.00" stroke="#D3D5D5" stroke-width="0.7"/>
<line x1="616.10" y1="209.90" x2="616.10" y2="232.90" stroke="#EBEBEB" stroke-width="0.7"/>
<line x1="616.10" y1="212.30" x2="616.10" y2="231.00" stroke="#D3D5D5" stroke-width="0.7"/>
<line x1="556.10" y1="232.90" x2="556.10" y2="209.90" stroke="#444" stroke-width="0.85" stroke-dasharray="3.73 3.73"/>
<line x1="536.18" y1="221.30" x2="592.34" y2="221.30" stroke="#3A3A3A" stroke-width="0.7"/>
<line x1="536.18" y1="218.40" x2="536.18" y2="224.20" stroke="#3A3A3A" stroke-width="0.85"/>
<line x1="592.34" y1="218.40" x2="592.34" y2="224.20" stroke="#3A3A3A" stroke-width="0.85"/>
<circle cx="564.26" cy="221.30" r="2.2" fill="#1F1F1F"/>
<text x="651.90" y="224.00" text-anchor="middle" font-size="7.5" fill="#1A1A1A">0.03 (-0.08, 0.15)</text>
<text transform="translate(508.10,244.10) scale(1,1.05)" text-anchor="middle" font-size="8.2" fill="#404040">-0.2</text>
<text transform="translate(532.10,244.10) scale(1,1.05)" text-anchor="middle" font-size="8.2" fill="#404040">-0.1</text>
<text transform="translate(556.10,244.10) scale(1,1.05)" text-anchor="middle" font-size="8.2" fill="#404040">0.0</text>
<text transform="translate(580.10,244.10) scale(1,1.05)" text-anchor="middle" font-size="8.2" fill="#404040">0.1</text>
<text transform="translate(604.10,244.10) scale(1,1.05)" text-anchor="middle" font-size="8.2" fill="#404040">0.2</text>
<line x1="68.25" y1="262.00" x2="68.25" y2="282.60" stroke="#EBEBEB" stroke-width="0.7"/>
<line x1="80.00" y1="262.00" x2="80.00" y2="282.60" stroke="#EBEBEB" stroke-width="0.7"/>
<line x1="91.75" y1="262.00" x2="91.75" y2="282.60" stroke="#EBEBEB" stroke-width="0.7"/>
<line x1="103.50" y1="262.00" x2="103.50" y2="282.60" stroke="#EBEBEB" stroke-width="0.7"/>
<line x1="115.25" y1="262.00" x2="115.25" y2="282.60" stroke="#EBEBEB" stroke-width="0.7"/>
<line x1="127.00" y1="262.00" x2="127.00" y2="282.60" stroke="#EBEBEB" stroke-width="0.7"/>
<line x1="138.75" y1="262.00" x2="138.75" y2="282.60" stroke="#EBEBEB" stroke-width="0.7"/>
<line x1="150.50" y1="262.00" x2="150.50" y2="282.60" stroke="#EBEBEB" stroke-width="0.7"/>
<line x1="162.25" y1="262.00" x2="162.25" y2="282.60" stroke="#EBEBEB" stroke-width="0.7"/>
<line x1="174.00" y1="262.00" x2="174.00" y2="282.60" stroke="#EBEBEB" stroke-width="0.7"/>
<line x1="185.75" y1="262.00" x2="185.75" y2="282.60" stroke="#EBEBEB" stroke-width="0.7"/>
<line x1="127.00" y1="282.60" x2="127.00" y2="262.00" stroke="#444" stroke-width="0.85" stroke-dasharray="3.73 3.73"/>
<line x1="106.60" y1="272.80" x2="148.90" y2="272.80" stroke="#3A3A3A" stroke-width="0.7"/>
<line x1="106.60" y1="270.10" x2="106.60" y2="275.50" stroke="#3A3A3A" stroke-width="0.85"/>
<line x1="148.90" y1="270.10" x2="148.90" y2="275.50" stroke="#3A3A3A" stroke-width="0.85"/>
<circle cx="128.10" cy="272.80" r="2.2" fill="#1F1F1F"/>
<text x="221.40" y="276.00" text-anchor="middle" font-size="7.5" fill="#1A1A1A">0.00 (-0.09, 0.09)</text>
<text transform="translate(80.00,294.10) scale(1,1.05)" text-anchor="middle" font-size="8.2" fill="#404040">-0.2</text>
<text transform="translate(103.50,294.10) scale(1,1.05)" text-anchor="middle" font-size="8.2" fill="#404040">-0.1</text>
<text transform="translate(127.00,294.10) scale(1,1.05)" text-anchor="middle" font-size="8.2" fill="#404040">0.0</text>
<text transform="translate(150.50,294.10) scale(1,1.05)" text-anchor="middle" font-size="8.2" fill="#404040">0.1</text>
<text transform="translate(174.00,294.10) scale(1,1.05)" text-anchor="middle" font-size="8.2" fill="#404040">0.2</text>
<text transform="translate(54.2,276.10) scale(1,1.05)" text-anchor="end" font-size="8.2" fill="#404040">DunedinPoAm</text>
<line x1="265.75" y1="262.00" x2="265.75" y2="282.60" stroke="#EBEBEB" stroke-width="0.7"/>
<line x1="277.50" y1="262.00" x2="277.50" y2="282.60" stroke="#EBEBEB" stroke-width="0.7"/>
<line x1="289.25" y1="262.00" x2="289.25" y2="282.60" stroke="#EBEBEB" stroke-width="0.7"/>
<line x1="301.00" y1="262.00" x2="301.00" y2="282.60" stroke="#EBEBEB" stroke-width="0.7"/>
<line x1="312.75" y1="262.00" x2="312.75" y2="282.60" stroke="#EBEBEB" stroke-width="0.7"/>
<line x1="324.50" y1="262.00" x2="324.50" y2="282.60" stroke="#EBEBEB" stroke-width="0.7"/>
<line x1="336.25" y1="262.00" x2="336.25" y2="282.60" stroke="#EBEBEB" stroke-width="0.7"/>
<line x1="348.00" y1="262.00" x2="348.00" y2="282.60" stroke="#EBEBEB" stroke-width="0.7"/>
<line x1="359.75" y1="262.00" x2="359.75" y2="282.60" stroke="#EBEBEB" stroke-width="0.7"/>
<line x1="371.50" y1="262.00" x2="371.50" y2="282.60" stroke="#EBEBEB" stroke-width="0.7"/>
<line x1="383.25" y1="262.00" x2="383.25" y2="282.60" stroke="#EBEBEB" stroke-width="0.7"/>
<line x1="324.50" y1="282.60" x2="324.50" y2="262.00" stroke="#444" stroke-width="0.85" stroke-dasharray="3.73 3.73"/>
<line x1="305.70" y1="272.80" x2="347.30" y2="272.80" stroke="#3A3A3A" stroke-width="0.7"/>
<line x1="305.70" y1="270.10" x2="305.70" y2="275.50" stroke="#3A3A3A" stroke-width="0.85"/>
<line x1="347.30" y1="270.10" x2="347.30" y2="275.50" stroke="#3A3A3A" stroke-width="0.85"/>
<circle cx="326.50" cy="272.80" r="2.2" fill="#1F1F1F"/>
<text x="419.00" y="275.40" text-anchor="middle" font-size="7.5" fill="#1A1A1A">0.01 (-0.08, 0.10)</text>
<text transform="translate(277.50,294.10) scale(1,1.05)" text-anchor="middle" font-size="8.2" fill="#404040">-0.2</text>
<text transform="translate(301.00,294.10) scale(1,1.05)" text-anchor="middle" font-size="8.2" fill="#404040">-0.1</text>
<text transform="translate(324.50,294.10) scale(1,1.05)" text-anchor="middle" font-size="8.2" fill="#404040">0.0</text>
<text transform="translate(348.00,294.10) scale(1,1.05)" text-anchor="middle" font-size="8.2" fill="#404040">0.1</text>
<text transform="translate(371.50,294.10) scale(1,1.05)" text-anchor="middle" font-size="8.2" fill="#404040">0.2</text>
<line x1="496.30" y1="260.20" x2="496.30" y2="282.70" stroke="#EBEBEB" stroke-width="0.7"/>
<line x1="508.30" y1="260.20" x2="508.30" y2="282.70" stroke="#EBEBEB" stroke-width="0.7"/>
<line x1="520.30" y1="260.20" x2="520.30" y2="282.70" stroke="#EBEBEB" stroke-width="0.7"/>
<line x1="532.30" y1="260.20" x2="532.30" y2="282.70" stroke="#EBEBEB" stroke-width="0.7"/>
<line x1="544.30" y1="260.20" x2="544.30" y2="282.70" stroke="#EBEBEB" stroke-width="0.7"/>
<line x1="556.30" y1="260.20" x2="556.30" y2="282.70" stroke="#EBEBEB" stroke-width="0.7"/>
<line x1="568.30" y1="260.20" x2="568.30" y2="282.70" stroke="#EBEBEB" stroke-width="0.7"/>
<line x1="580.30" y1="260.20" x2="580.30" y2="282.70" stroke="#EBEBEB" stroke-width="0.7"/>
<line x1="592.30" y1="260.20" x2="592.30" y2="282.70" stroke="#EBEBEB" stroke-width="0.7"/>
<line x1="604.30" y1="260.20" x2="604.30" y2="282.70" stroke="#EBEBEB" stroke-width="0.7"/>
<line x1="616.30" y1="260.20" x2="616.30" y2="282.70" stroke="#EBEBEB" stroke-width="0.7"/>
<line x1="556.30" y1="282.70" x2="556.30" y2="260.20" stroke="#444" stroke-width="0.85" stroke-dasharray="3.73 3.73"/>
<line x1="520.30" y1="271.90" x2="567.34" y2="271.90" stroke="#3A3A3A" stroke-width="0.7"/>
<line x1="520.30" y1="269.00" x2="520.30" y2="274.80" stroke="#3A3A3A" stroke-width="0.85"/>
<line x1="567.34" y1="269.00" x2="567.34" y2="274.80" stroke="#3A3A3A" stroke-width="0.85"/>
<circle cx="543.82" cy="271.90" r="2.2" fill="#1F1F1F"/>
<text x="651.90" y="275.10" text-anchor="middle" font-size="7.5" fill="#1A1A1A">-0.05 (-0.15, 0.04)</text>
<text transform="translate(508.30,294.60) scale(1,1.05)" text-anchor="middle" font-size="8.2" fill="#404040">-0.2</text>
<text transform="translate(532.30,294.60) scale(1,1.05)" text-anchor="middle" font-size="8.2" fill="#404040">-0.1</text>
<text transform="translate(556.30,294.60) scale(1,1.05)" text-anchor="middle" font-size="8.2" fill="#404040">0.0</text>
<text transform="translate(580.30,294.60) scale(1,1.05)" text-anchor="middle" font-size="8.2" fill="#404040">0.1</text>
<text transform="translate(604.30,294.60) scale(1,1.05)" text-anchor="middle" font-size="8.2" fill="#404040">0.2</text>
</svg>
</body></html>
